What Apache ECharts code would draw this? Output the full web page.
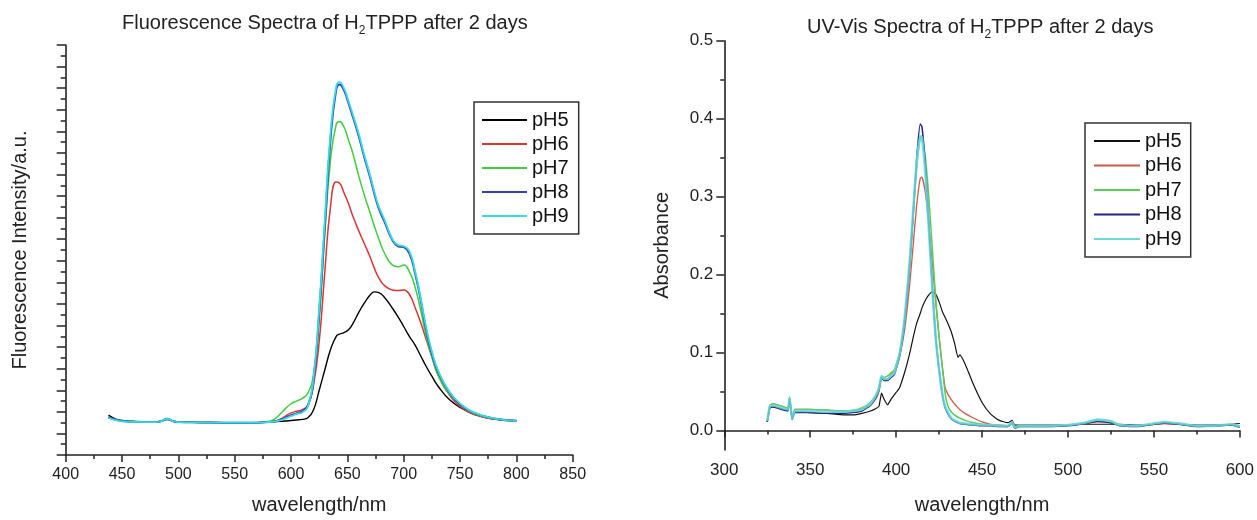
<!DOCTYPE html>
<html><head><meta charset="utf-8">
<script src="https://cdn.jsdelivr.net/npm/echarts@6/dist/echarts.min.js"></script>
<style>html,body{margin:0;padding:0;background:#fff}#c{width:1257px;height:520px}</style>
</head><body><div id="c"></div>
<script>
// ---------- Fluorescence (left) ----------
const flWave = [438,445,450,460,470,480,485,490,495,500,520,540,560,570,580,585,590,595,600,605,610,615,620,625,630,635,640,643,647,651,655,660,665,670,674,678,683,690,695,700,705,710,715,720,725,731,741,752,763,780,800];
const fl5 = [3.7,3.3,3.2,3.1,3.05, 3.05,3.15,3.3,3.15,3.05, 3.02,3.0,3.0,3.0,3.05, 3.08,3.12,3.15,3.2,3.25, 3.3,3.45,4.2,6.0,7.9, 9.75,10.98,11.2,11.35,11.6, 12.2,13.2,14.07,14.8,15.12, 15.05,14.6,13.6,12.8,11.91, 11.0,10.2,9.2,8.2,7.3, 6.3,5.1,4.3,3.75,3.33, 3.17];
const fl6 = [3.5,3.25,3.15,3.1,3.05, 3.05,3.15,3.3,3.15,3.05, 3.02,3.0,3.0,3.0,3.05, 3.1,3.3,3.6,3.9,4.05, 4.2,4.6,6.5,10.5,17.0, 23.0,25.3,25.2,24.3,23.3, 22.1,20.8,19.6,18.4,17.3, 16.4,15.7,15.3,15.25,15.3, 14.9,13.7,12.3,10.7,9.1, 7.3,5.5,4.35,3.75,3.33, 3.17];
const fl7 = [3.5,3.25,3.15,3.1,3.05, 3.05,3.15,3.3,3.15,3.05, 3.02,3.0,3.0,3.02,3.1, 3.3,3.75,4.3,4.75,5.0, 5.25,5.75,7.5,12.5,20.5, 27.3,30.6,30.9,30.4,29.2, 27.9,25.9,24.1,22.5,21.2, 20.0,18.7,17.6,17.45,17.6, 17.0,15.6,13.45,11.0,9.1, 7.3,5.6,4.5,3.82,3.36, 3.17];
const fl8 = [3.5,3.25,3.15,3.1,3.05, 3.05,3.15,3.35,3.15,3.05, 3.02,3.0,3.0,3.0,3.05, 3.1,3.25,3.45,3.7,3.85, 4.05,4.6,7.0,13.2,21.2, 29.2,33.8,34.35,33.8,32.6, 31.3,29.6,27.6,25.8,24.2, 22.8,21.6,19.9,19.35,19.26, 18.7,16.9,14.4,11.6,9.4, 7.6,5.75,4.55,3.88,3.39, 3.17];
const fl9 = [3.45,3.2,3.12,3.08,3.05, 3.05,3.15,3.35,3.15,3.05, 3.02,3.0,3.0,3.0,3.05, 3.1,3.2,3.4,3.6,3.8, 3.95,4.5,7.2,13.6,21.8, 29.8,34.1,34.55,34.0,32.8, 31.5,29.8,27.8,26.0,24.4, 23.0,21.8,20.0,19.45,19.35, 18.9,17.1,14.6,11.8,9.6, 7.7,5.8,4.6,3.9,3.4, 3.17];

// ---------- UV-Vis (right) ----------
const uvWave = [325,326.5,328,332,335, 337,338,339.5,341,345, 350,360,370,375,380, 385,388,390,391.5,393, 395,397,399,402,405, 408,410,412,414,415, 417,419,421,423,425, 427,428.5,430,432,434, 436,437,440,445,450, 455,460,465,467.5,469, 472,480,490,500,510, 517,525,530,540,550, 556,565,575,585,595, 600];
const uv5 = [0.011,0.030,0.031,0.029,0.027, 0.026,0.040,0.016,0.024,0.024, 0.023,0.022,0.020,0.020,0.022, 0.025,0.028,0.031,0.048,0.040, 0.033,0.040,0.046,0.055,0.075, 0.100,0.120,0.138,0.150,0.157, 0.167,0.174,0.178,0.175,0.165, 0.152,0.145,0.138,0.127,0.112, 0.094,0.097,0.086,0.059,0.036, 0.021,0.013,0.010,0.013,0.007, 0.007,0.007,0.007,0.007,0.008, 0.008,0.008,0.008,0.007,0.008, 0.009,0.008,0.007,0.007,0.008, 0.009];
const uv6 = [0.011,0.032,0.034,0.032,0.030, 0.028,0.042,0.016,0.027,0.027, 0.027,0.026,0.025,0.025,0.027, 0.033,0.040,0.050,0.068,0.066, 0.066,0.072,0.076,0.095,0.130, 0.190,0.240,0.290,0.323,0.325, 0.305,0.265,0.215,0.165,0.120, 0.080,0.055,0.047,0.040,0.034, 0.029,0.027,0.022,0.016,0.011, 0.008,0.007,0.006,0.010,0.004, 0.006,0.006,0.006,0.007,0.009, 0.011,0.010,0.007,0.006,0.008, 0.009,0.008,0.006,0.006,0.007, 0.006];
const uv7 = [0.011,0.032,0.034,0.032,0.030, 0.028,0.043,0.016,0.027,0.027, 0.027,0.026,0.025,0.026,0.029, 0.036,0.045,0.055,0.070,0.068, 0.070,0.074,0.078,0.100,0.145, 0.220,0.280,0.340,0.375,0.378, 0.350,0.300,0.235,0.170,0.120, 0.078,0.048,0.032,0.024,0.020, 0.017,0.016,0.013,0.010,0.008, 0.007,0.006,0.005,0.010,0.004, 0.006,0.006,0.006,0.007,0.010, 0.014,0.012,0.007,0.006,0.009, 0.011,0.009,0.006,0.006,0.007, 0.006];
const uv8 = [0.011,0.029,0.030,0.028,0.026, 0.025,0.040,0.014,0.023,0.023, 0.023,0.022,0.022,0.023,0.025, 0.032,0.042,0.052,0.068,0.064, 0.064,0.068,0.072,0.095,0.140, 0.215,0.280,0.350,0.393,0.390, 0.340,0.265,0.185,0.120,0.078, 0.045,0.029,0.022,0.015,0.012, 0.010,0.009,0.008,0.007,0.006, 0.006,0.005,0.005,0.010,0.003, 0.005,0.005,0.005,0.006,0.009, 0.012,0.010,0.006,0.005,0.008, 0.010,0.008,0.005,0.006,0.007, 0.004];
const uv9 = [0.012,0.031,0.032,0.030,0.028, 0.027,0.042,0.015,0.025,0.025, 0.025,0.024,0.024,0.025,0.027, 0.034,0.044,0.054,0.070,0.066, 0.066,0.070,0.074,0.098,0.145, 0.220,0.285,0.345,0.377,0.376, 0.330,0.260,0.185,0.120,0.078, 0.045,0.031,0.024,0.016,0.013, 0.011,0.010,0.009,0.008,0.007, 0.007,0.006,0.006,0.011,0.004, 0.006,0.006,0.006,0.007,0.010, 0.014,0.012,0.007,0.006,0.009, 0.011,0.009,0.006,0.006,0.008, 0.005];

const names = ['pH5','pH6','pH7','pH8','pH9'];
const uvMajorTicks = [0,0.1,0.2,0.3,0.4,0.5];
const uvMinorTicks = [0.05,0.15,0.25,0.35,0.45];

const FONT = "'Liberation Sans', Arial, sans-serif";
const INK = '#222';
const flColors = ['#000000','#dd3333','#3fcc3f','#3340bb','#33dde0'];
const flWidths = [1.4,1.5,1.5,2,1.8];
const uvColors = ['#111111','#cc5a4a','#5acc5a','#22228a','#6adada'];
const uvWidths = [1.2,1.3,1.5,1.5,2.6];

const pair = (xs, ys) => xs.map((x,i)=>[x, ys[i]]);
const flSets = [fl5,fl6,fl7,fl8,fl9];
const uvSets = [uv5,uv6,uv7,uv8,uv9];

function xAxisCfg(grid, min, max, fs, gap){
  return {gridIndex:grid, type:'value', min:min, max:max, interval:50,
    axisLine:{lineStyle:{color:INK,width:1.6}},
    axisTick:{length:7,lineStyle:{color:INK,width:1.5}},
    minorTick:{show:true,splitNumber:2,length:4,lineStyle:{color:INK,width:1.5}},
    splitLine:{show:false}, minorSplitLine:{show:false},
    axisLabel:{fontSize:fs,color:INK,fontFamily:FONT,margin:12},
    name:'wavelength/nm', nameLocation:'middle', nameGap:gap,
    nameTextStyle:{fontSize:20,color:INK,fontFamily:FONT}};
}

const option = {
  animation:false,
  backgroundColor:'#fff',
  textStyle:{fontFamily:FONT},
  title:[
    {text:'Fluorescence Spectra of H{s|2}TPPP after 2 days', left:122, top:9, padding:0,
     textStyle:{fontSize:20,fontWeight:'normal',color:INK,fontFamily:FONT,lineHeight:28,
       rich:{s:{fontSize:12,verticalAlign:'bottom',lineHeight:28,color:INK,fontFamily:FONT}}}},
    {text:'UV-Vis Spectra of H{s|2}TPPP after 2 days', left:807, top:13, padding:0,
     textStyle:{fontSize:20,fontWeight:'normal',color:INK,fontFamily:FONT,lineHeight:28,
       rich:{s:{fontSize:12,verticalAlign:'bottom',lineHeight:28,color:INK,fontFamily:FONT}}}}
  ],
  legend:[
    {orient:'vertical', left:474, top:102, padding:[8,10,8,8], itemGap:4, itemWidth:45, itemHeight:2,
     icon:'rect', borderColor:'#333', borderWidth:1.5, backgroundColor:'#fff',
     textStyle:{fontSize:20,color:'#111',fontFamily:FONT},
     data:names.map((n,i)=>({name:n, itemStyle:{color:flColors[i]}})), selectedMode:false},
    {orient:'vertical', left:1085, top:123, padding:[8,9,8,9], itemGap:4.5, itemWidth:46, itemHeight:2,
     icon:'rect', borderColor:'#333', borderWidth:1.5, backgroundColor:'#fff',
     textStyle:{fontSize:20,color:'#111',fontFamily:FONT},
     data:names.map((n,i)=>({name:n, itemStyle:{color:uvColors[i]}})), selectedMode:false}
  ],
  grid:[
    {left:65.7, top:45, width:507, height:410.3},
    {left:724.3, top:40.7, width:516, height:416.6}
  ],
  xAxis:[
    xAxisCfg(0,400,850,16,40),
    xAxisCfg(1,300,600,17,45)
  ],
  yAxis:[
    {gridIndex:0, type:'value', min:0, max:38, interval:2,
     axisLine:{show:true,lineStyle:{color:INK,width:1.6}},
     axisTick:{show:true,length:9,lineStyle:{color:INK,width:1.5}},
     minorTick:{show:true,splitNumber:2,length:5,lineStyle:{color:INK,width:1.5}},
     splitLine:{show:false}, minorSplitLine:{show:false},
     axisLabel:{show:false},
     name:'Fluorescence Intensity/a.u.', nameLocation:'middle', nameGap:35,
     nameTextStyle:{fontSize:20,color:INK,fontFamily:FONT}},
    {gridIndex:1, type:'value', min:-0.025, max:0.5, position:'left',
     axisLine:{show:true,lineStyle:{color:INK,width:1.6}},
     axisTick:{show:true,length:8,customValues:uvMajorTicks,lineStyle:{color:INK,width:1.5}},
     splitLine:{show:false},
     axisLabel:{customValues:uvMajorTicks,fontSize:17,color:INK,fontFamily:FONT,margin:11,
       formatter:v=>Number(v).toFixed(1)},
     name:'Absorbance', nameLocation:'middle', nameGap:52,
     nameTextStyle:{fontSize:20,color:INK,fontFamily:FONT}},
    {gridIndex:1, type:'value', min:-0.025, max:0.5, position:'left', offset:0,
     axisLine:{show:false},
     axisTick:{show:true,length:4,customValues:uvMinorTicks,lineStyle:{color:INK,width:1.5}},
     splitLine:{show:false}, axisLabel:{show:false}}
  ],
  series:[
    ...names.map((n,i)=>({name:n, type:'line', xAxisIndex:0, yAxisIndex:0, showSymbol:false, symbol:'none',
      smooth:0.5, data:pair(flWave, flSets[i]),
      lineStyle:{color:flColors[i], width:flWidths[i]}, itemStyle:{color:flColors[i]}})),
    ...names.map((n,i)=>({name:n, type:'line', xAxisIndex:1, yAxisIndex:1, showSymbol:false, symbol:'none',
      smooth:0.15, data:pair(uvWave, uvSets[i]),
      lineStyle:{color:uvColors[i], width:uvWidths[i], opacity:i===4?0.85:1}, itemStyle:{color:uvColors[i]}}))
  ]
};
const chart = echarts.init(document.getElementById('c'), null, {renderer:'canvas'});
chart.setOption(option);
</script></body></html>
